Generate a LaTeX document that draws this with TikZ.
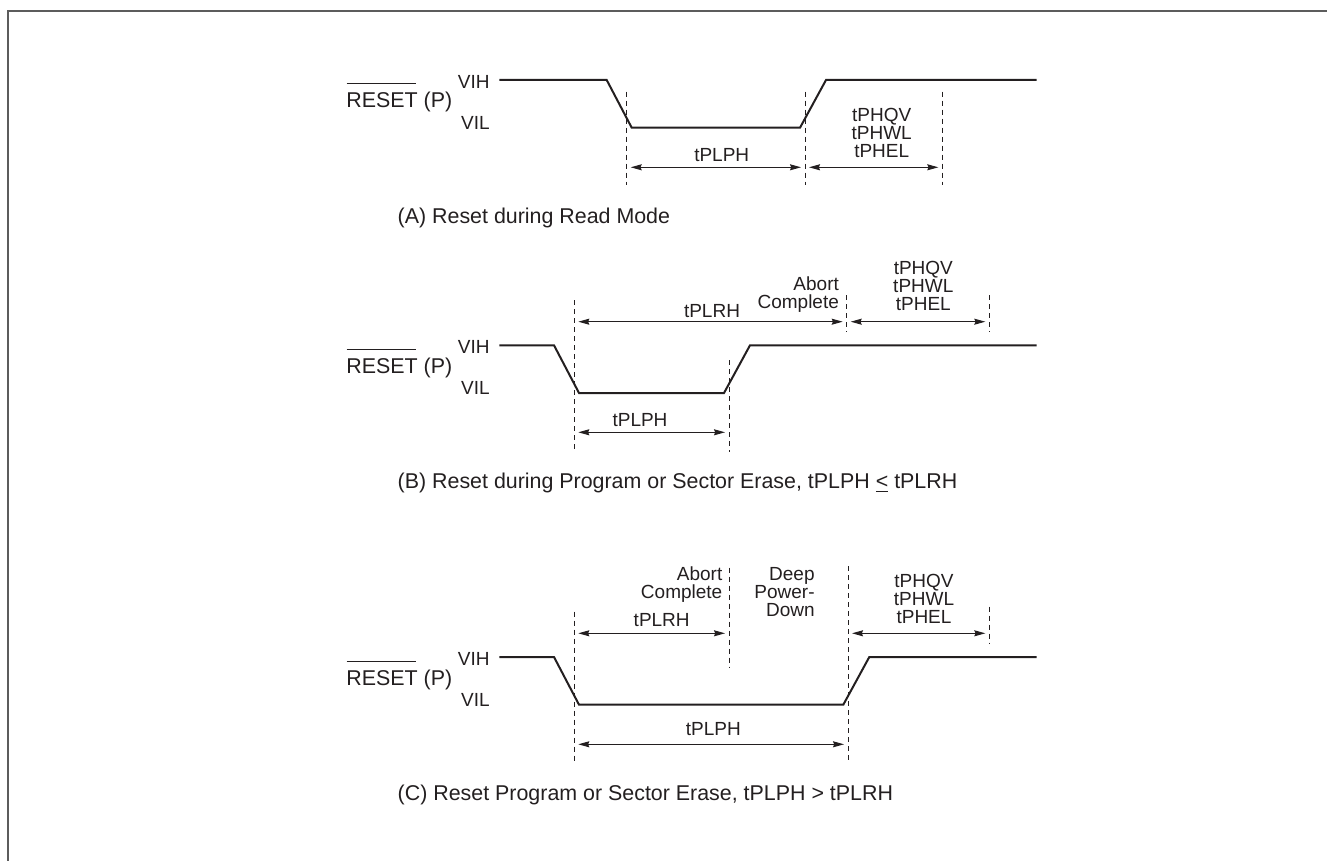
\documentclass[tikz,border=0pt]{standalone}
\usepackage{fontspec}
\setmainfont{Liberation Sans}
\usetikzlibrary{arrows.meta}
\definecolor{InkGray}{HTML}{231F20}
\definecolor{FrameGray}{HTML}{5C5C5C}

\tikzset{
  sig/.style={line width=1pt,InkGray},
  guide/.style={line width=0.5pt,InkGray,dash pattern=on 2.5pt off 2pt},
  dim/.style={<->,line width=0.5pt,InkGray,shorten <=2pt,shorten >=2pt},
  lbl/.style={inner sep=0pt,text=InkGray,font=\fontsize{9.5}{9}\selectfont},
  captxt/.style={inner sep=0pt,text=InkGray,font=\fontsize{10.7}{12}\selectfont},
}

\begin{document}
\begin{tikzpicture}[x=0.5pt,y=-0.5pt,>={Stealth[length=5.5pt,width=3pt,inset=0.6pt]}]
\useasboundingbox (0,0) rectangle (1327,861);
\draw[line width=1pt,FrameGray] (1327,11) -- (8,11) -- (8,861);

% signal name and levels, one set per panel
\foreach \p/\h in {A/80,B/345.3,C/657} {
  \node[captxt,anchor=base west] (rst\p) at (346,\h+28) {RESET (P)};
  \draw[line width=0.5pt,InkGray] (346.5,\h+4) -- (415.5,\h+4);
  \node[lbl,anchor=base east] (vih\p) at (490,\h+8.3) {VIH};
  \node[lbl,anchor=base east] (vil\p) at (490,\h+49.5) {VIL};
}

% waveforms: high level / fall start / rise start
\foreach \h/\f/\r in {80/606.7/800,345.3/554/724,657/554/843.3}
  \draw[sig] (499.3,\h) -- (\f,\h) -- (\f+25,\h+47.7) -- (\r,\h+47.7)
    -- (\r+26,\h) -- (1036.7,\h);

% dashed timing marks
\foreach \x/\ya/\yb in {626.7/91.7/185,805/91.7/185,942.3/91.7/185,
    574.3/300/452,729/360/452,846.7/295/331.7,989.3/295/331.7,
    574.3/611.7/763.3,729/567.7/668,848/566/762,989.3/606.7/643.3}
  \draw[guide] (\x,\ya) -- (\x,\yb);

% (A) read mode
\coordinate (a1) at (626.7,167.3);
\coordinate (a2) at (805,167.3);
\coordinate (a3) at (942.3,167.3);
\draw[dim] (a1) -- (a2);
\draw[dim] (a2) -- (a3);
\node[lbl,anchor=base] (plphA) at (721.7,161.7) {tPLPH};
\node[lbl,anchor=north,align=center] (phA) at (881.7,108.1) {tPHQV\\tPHWL\\tPHEL};
\node[captxt,anchor=base west] (capA) at (397.3,223.3) {(A) Reset during Read Mode};

% (B) program / erase, short pulse
\coordinate (b1) at (574.3,321.7);
\coordinate (b2) at (846.7,321.7);
\coordinate (b3) at (989.3,321.7);
\coordinate (b4) at (574.3,432.3);
\coordinate (b5) at (729,432.3);
\draw[dim] (b1) -- (b2);
\draw[dim] (b2) -- (b3);
\draw[dim] (b4) -- (b5);
\node[lbl,anchor=base] (plrhB) at (712,317.3) {tPLRH};
\node[lbl,anchor=north east,align=right] (abB) at (839.3,276.4) {Abort\\Complete};
\node[lbl,anchor=north,align=center] (phB) at (923.3,260.7) {tPHQV\\tPHWL\\tPHEL};
\node[lbl,anchor=base] (plphB) at (640,426.7) {tPLPH};
\node[captxt,anchor=base west] (capB) at (397.3,488.3)
  {(B) Reset during Program or Sector Erase, tPLPH \underline{<} tPLRH};

% (C) program / erase, long pulse
\coordinate (c1) at (574.3,633.3);
\coordinate (c2) at (729,633.3);
\coordinate (c3) at (848,633.3);
\coordinate (c4) at (989.3,633.3);
\coordinate (c5) at (574.3,744.3);
\draw[dim] (c1) -- (c2);
\draw[dim] (c3) -- (c4);
\draw[dim] (c5) -- (c3 |- c5);
\node[lbl,anchor=north east,align=right] (abC) at (722.7,566.4) {Abort\\Complete};
\node[lbl,anchor=base] (plrhC) at (661.7,626.7) {tPLRH};
\node[lbl,anchor=north east,align=right] (dpC) at (815,567.4) {Deep\\Power-\\Down};
\node[lbl,anchor=north,align=center] (phC) at (924,573.7) {tPHQV\\tPHWL\\tPHEL};
\node[lbl,anchor=base] (plphC) at (713.3,735) {tPLPH};
\node[captxt,anchor=base west] (capC) at (397.3,800)
  {(C) Reset Program or Sector Erase, tPLPH > tPLRH};
\end{tikzpicture}
\end{document}
